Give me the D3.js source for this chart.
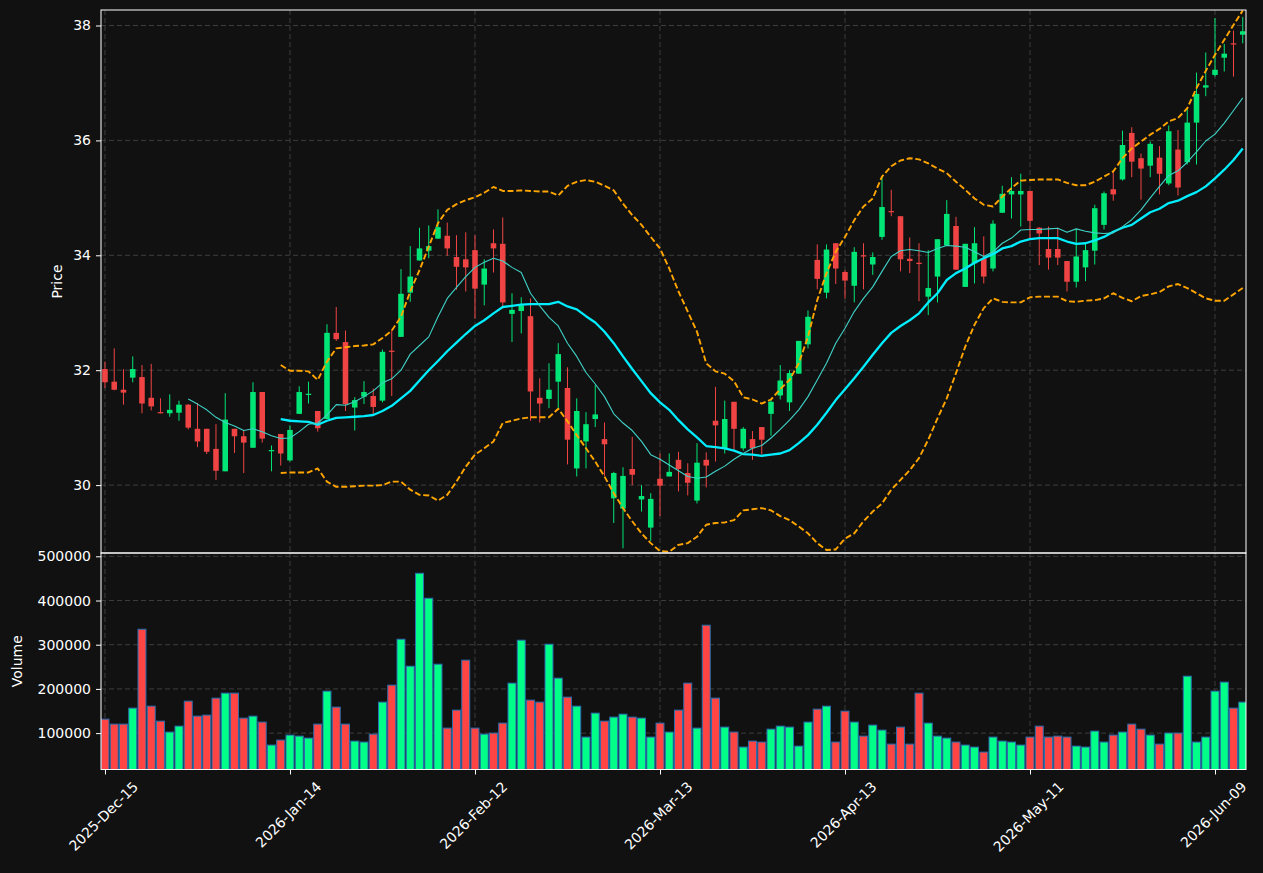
<!DOCTYPE html>
<html><head><meta charset="utf-8">
<script src="https://cdn.jsdelivr.net/npm/d3@7"></script>
<style>
html,body{margin:0;padding:0;background:#111111;}
text{font-family:"DejaVu Sans",sans-serif;}
</style>
</head><body>
<svg id="chart" width="1263" height="873"></svg>
<script>
// ---------- DATA ----------
const tickIndex = [0, 20, 40, 60, 80, 100, 120];
const tickLabels = ["2025-Dec-15", "2026-Jan-14", "2026-Feb-12", "2026-Mar-13", "2026-Apr-13", "2026-May-11", "2026-Jun-09"];
const priceTicks = [30, 32, 34, 36, 38];
const volumeTicks = [100000, 200000, 300000, 400000, 500000];

const openP = [32.02,31.80,31.66,31.87,31.88,31.52,31.27,31.25,31.26,31.40,
30.98,30.98,30.63,30.24,30.98,30.85,30.65,31.62,30.60,30.89,
30.43,31.24,31.57,31.29,31.15,32.65,32.49,31.35,31.54,31.55,
31.47,32.34,32.58,33.35,33.91,34.08,34.29,34.34,33.97,33.93,
34.09,33.49,34.21,34.20,32.98,33.03,32.94,31.52,31.50,31.80,
31.69,30.29,30.76,31.15,30.80,29.77,29.59,30.28,29.75,29.26,
30.11,30.15,30.44,30.21,29.73,30.44,31.12,30.64,31.45,30.64,
30.80,31.01,31.24,31.56,31.44,31.94,32.45,33.92,33.35,34.21,
33.71,33.47,34.00,33.84,34.32,34.77,34.68,33.94,33.87,33.28,
33.63,34.17,34.51,33.45,33.86,33.95,33.77,34.74,35.06,35.06,
35.12,34.48,34.11,34.11,33.90,33.54,33.79,34.08,34.53,35.15,
35.32,36.13,35.69,35.56,35.70,35.25,35.84,35.62,36.31,36.92,
37.14,37.44,37.69,37.84];

const highP = [32.15,32.38,32.02,32.24,32.09,32.11,31.51,31.58,31.47,31.41,
31.43,30.98,31.06,31.60,30.98,30.96,31.79,31.62,30.69,30.89,
31.04,31.72,31.80,31.29,32.80,33.10,32.69,31.53,31.81,31.68,
32.36,32.70,33.76,34.16,34.48,34.52,34.80,34.57,34.35,34.40,
34.35,33.93,34.45,34.66,33.34,33.27,33.25,31.86,32.12,32.47,
32.05,31.51,31.27,31.74,31.09,30.23,30.31,30.84,30.00,29.86,
30.55,30.55,30.58,30.38,30.73,30.57,31.71,31.47,31.45,31.01,
30.94,31.01,31.49,32.09,32.00,32.51,33.04,34.19,34.19,34.21,
33.74,34.14,34.21,34.05,35.38,35.14,34.68,34.31,34.21,34.09,
34.28,34.96,34.67,34.20,34.49,34.33,34.61,35.21,35.36,35.42,
35.12,34.49,34.50,34.48,33.90,34.46,34.21,34.88,35.11,35.45,
36.17,36.23,35.77,35.98,35.90,36.26,36.18,36.56,37.18,37.53,
38.13,37.68,37.91,38.15];

const lowP = [31.69,31.65,31.40,31.79,31.25,31.30,31.25,31.19,31.12,30.97,
30.66,30.54,30.09,30.24,30.56,30.21,30.65,30.74,30.24,30.34,
30.41,31.24,31.42,30.93,31.15,32.51,31.29,30.95,31.41,31.23,
31.44,31.55,32.58,33.19,33.91,33.95,34.29,33.99,33.40,33.37,
32.90,33.13,33.70,33.11,32.49,32.64,31.12,31.09,31.34,31.34,
30.36,30.15,30.29,31.01,30.16,29.34,28.90,30.00,29.54,29.03,
29.46,30.15,29.89,29.82,29.68,29.96,30.41,30.55,30.61,30.60,
30.44,30.53,30.86,31.49,31.29,31.94,32.38,33.41,33.25,33.50,
33.25,33.18,33.41,33.66,34.27,34.68,33.72,33.69,33.20,32.96,
33.18,34.17,33.75,33.45,33.51,33.51,33.72,34.74,34.64,34.50,
34.30,33.83,33.75,33.83,33.37,33.44,33.55,33.84,34.45,34.95,
35.30,35.36,34.97,35.36,35.06,35.22,35.04,35.58,35.58,36.77,
37.11,37.20,37.11,37.69];

const closeP = [31.79,31.66,31.61,32.02,31.42,31.37,31.25,31.31,31.40,31.00,
30.76,30.58,30.25,31.14,30.85,30.74,31.62,30.81,30.61,30.55,
30.96,31.62,31.59,30.99,32.65,32.54,31.41,31.48,31.62,31.36,
32.32,32.33,33.33,33.63,34.12,34.16,34.49,34.12,33.80,33.79,
33.42,33.77,34.12,33.18,33.05,33.13,31.63,31.42,31.66,32.28,
30.79,31.29,31.06,31.23,30.71,30.21,30.16,30.18,29.81,29.76,
29.99,30.23,30.28,30.04,30.39,30.34,31.04,31.15,30.98,30.98,
30.64,30.79,31.45,31.82,31.95,32.51,32.93,33.59,34.10,33.77,
33.56,34.06,33.99,33.97,34.84,34.76,33.93,33.90,33.86,33.43,
34.28,34.72,33.75,34.20,34.21,33.63,34.55,35.07,35.12,35.12,
34.60,34.38,33.96,33.96,33.54,33.98,34.09,34.82,35.08,35.06,
35.92,35.63,35.51,35.94,35.42,36.16,35.18,36.31,36.81,36.96,
37.23,37.51,37.68,37.90];

const volume = [131600,120300,120300,156500,335000,161000,127100,102300,115800,172300,
138400,140700,179100,190400,190400,133900,138400,124900,72900,84200,
95500,93200,88700,120300,194900,158800,120300,81900,79700,97700,
170100,208500,312400,251400,461600,405100,255900,111300,152000,265000,
111300,97700,100000,122600,213000,310200,174600,170100,301100,224300,
181400,161000,91000,145200,127100,136200,142900,136200,133900,91000,
122600,102300,152000,213000,111300,344100,179100,113600,102300,68400,
81900,79700,109000,115800,113600,70600,124900,154200,161000,79700,
149700,124900,93200,118100,106800,75100,113600,75100,190400,122600,
93200,88700,79700,72900,68400,57100,91000,81900,79700,72900,
91000,115800,91000,93200,91000,70600,68400,104500,79700,95500,
102300,120300,109000,95500,75100,100000,100000,228800,79700,91000,
194900,215300,156500,170100];

const ma10 = [null,null,null,null,null,null,null,null,null,
31.50,31.41,31.31,31.18,31.09,31.03,30.95,30.98,30.93,30.86,30.81,
30.82,30.93,31.06,31.08,31.22,31.40,31.39,31.45,31.54,31.64,
31.78,31.85,32.00,32.28,32.43,32.58,32.93,33.25,33.44,33.63,
33.79,33.88,33.95,33.90,33.79,33.70,33.34,33.12,32.92,32.77,
32.47,32.24,31.96,31.76,31.54,31.24,31.08,30.95,30.76,30.53,
30.45,30.35,30.25,30.15,30.12,30.14,30.24,30.33,30.45,30.55,
30.64,30.69,30.82,30.97,31.13,31.31,31.54,31.83,32.12,32.47,
32.73,33.02,33.25,33.45,33.72,33.98,34.08,34.10,34.08,34.05,
34.12,34.17,34.16,34.14,34.06,33.98,34.06,34.21,34.30,34.44,
34.45,34.45,34.46,34.47,34.40,34.46,34.42,34.39,34.38,34.39,
34.50,34.62,34.79,35.00,35.20,35.39,35.47,35.62,35.80,35.99,
36.11,36.30,36.52,36.74];

const ma20 = [null,null,null,null,null,null,null,null,null,null,
null,null,null,null,null,null,null,null,null,31.15,
31.12,31.11,31.10,31.05,31.12,31.17,31.18,31.19,31.20,31.22,
31.29,31.38,31.51,31.64,31.82,32.00,32.16,32.33,32.48,32.63,
32.77,32.87,32.99,33.10,33.12,33.14,33.15,33.15,33.15,33.19,
33.11,33.06,32.94,32.83,32.67,32.47,32.24,32.02,31.81,31.60,
31.44,31.31,31.13,30.97,30.83,30.68,30.66,30.64,30.60,30.54,
30.53,30.51,30.53,30.55,30.61,30.73,30.87,31.05,31.26,31.48,
31.67,31.86,32.06,32.27,32.47,32.65,32.77,32.87,32.99,33.18,
33.34,33.57,33.69,33.77,33.87,33.95,34.02,34.12,34.16,34.24,
34.28,34.30,34.30,34.30,34.24,34.20,34.21,34.26,34.32,34.41,
34.48,34.53,34.64,34.75,34.81,34.91,34.95,35.03,35.10,35.20,
35.34,35.49,35.66,35.86];

const bbUpper = [null,null,null,null,null,null,null,null,null,null,
null,null,null,null,null,null,null,null,null,32.09,
31.99,31.99,31.98,31.83,32.15,32.38,32.40,32.42,32.43,32.45,
32.56,32.69,32.93,33.37,33.74,34.15,34.56,34.79,34.89,34.96,
35.01,35.09,35.19,35.12,35.12,35.13,35.12,35.11,35.11,35.04,
35.21,35.28,35.31,35.28,35.21,35.13,34.90,34.70,34.53,34.32,
34.12,33.77,33.37,33.02,32.67,32.12,31.98,31.94,31.81,31.53,
31.49,31.42,31.49,31.67,31.83,32.12,32.58,33.22,33.69,34.06,
34.32,34.61,34.85,34.99,35.37,35.55,35.65,35.69,35.67,35.60,
35.51,35.43,35.28,35.14,34.99,34.88,34.85,35.02,35.17,35.30,
35.31,35.32,35.32,35.32,35.26,35.22,35.22,35.28,35.37,35.46,
35.69,35.86,35.98,36.10,36.20,36.33,36.39,36.56,36.91,37.21,
37.49,37.75,38.01,38.26];

const bbLower = [null,null,null,null,null,null,null,null,null,null,
null,null,null,null,null,null,null,null,null,30.21,
30.22,30.22,30.22,30.29,30.06,29.97,29.97,29.98,29.99,29.99,
30.00,30.06,30.06,29.92,29.83,29.82,29.73,29.83,30.06,30.32,
30.53,30.64,30.76,31.08,31.12,31.16,31.18,31.18,31.18,31.33,
31.11,30.87,30.64,30.41,30.15,29.86,29.60,29.37,29.16,28.99,
28.85,28.84,28.96,28.99,29.10,29.31,29.34,29.35,29.39,29.56,
29.58,29.60,29.56,29.46,29.39,29.28,29.16,28.99,28.87,28.88,
29.07,29.16,29.37,29.54,29.68,29.92,30.09,30.26,30.47,30.79,
31.16,31.51,31.95,32.41,32.79,33.08,33.25,33.19,33.18,33.18,
33.27,33.28,33.28,33.28,33.20,33.19,33.21,33.22,33.25,33.34,
33.26,33.20,33.29,33.32,33.36,33.46,33.50,33.43,33.34,33.25,
33.21,33.21,33.32,33.43];

// ---------- LAYOUT / STYLE ----------
const BG = "#111111";
const UP_C = "#00e676", DN_C = "#f04444";
const VUP_C = "#00ff88", VDN_C = "#ff4444", VEDGE = "#2a6fb0";
const GRID = "#3d3d3d";
const pane = {left: 101, right: 1246, pTop: 10, pBot: 553, vTop: 553, vBot: 769.5};

const svg = d3.select("#chart");
svg.append("rect").attr("width", 1263).attr("height", 873).attr("fill", BG);

const idx = d3.range(openP.length);
const x = d3.scaleLinear().domain([-0.43, 123.35]).range([pane.left, pane.right]);
const step = x(1) - x(0);
const yP = d3.scaleLinear().domain([28.818, 38.27]).range([pane.pBot, pane.pTop]);
const yV = d3.scaleLinear().domain([17700, 507500]).range([pane.vBot, pane.vTop]);

const defs = svg.append("defs");
defs.append("clipPath").attr("id", "clipP").append("rect")
  .attr("x", pane.left).attr("y", pane.pTop).attr("width", pane.right - pane.left).attr("height", pane.pBot - pane.pTop);
defs.append("clipPath").attr("id", "clipV").append("rect")
  .attr("x", pane.left).attr("y", pane.vTop).attr("width", pane.right - pane.left).attr("height", pane.vBot - pane.vTop);

// ---------- GRID ----------
function grid(g, yScale, ticks, top, bot) {
  g.selectAll("line.h").data(ticks).enter().append("line")
    .attr("x1", pane.left).attr("x2", pane.right)
    .attr("y1", d => yScale(d)).attr("y2", d => yScale(d))
    .attr("stroke", GRID).attr("stroke-width", 1).attr("stroke-dasharray", "5,3");
  g.selectAll("line.v").data(tickIndex).enter().append("line")
    .attr("x1", d => x(d)).attr("x2", d => x(d))
    .attr("y1", top).attr("y2", bot)
    .attr("stroke", GRID).attr("stroke-width", 1).attr("stroke-dasharray", "5,3");
}
grid(svg.append("g").attr("clip-path", "url(#clipP)"), yP, priceTicks, pane.pTop, pane.pBot);
grid(svg.append("g").attr("clip-path", "url(#clipV)"), yV, volumeTicks, pane.vTop, pane.vBot);

// ---------- CANDLES ----------
const gc = svg.append("g").attr("clip-path", "url(#clipP)");
const bodyW = step * 0.6;
const cand = gc.selectAll("g.c").data(idx).enter().append("g");
cand.append("line")
  .attr("x1", i => x(i)).attr("x2", i => x(i))
  .attr("y1", i => yP(highP[i])).attr("y2", i => yP(lowP[i]))
  .attr("stroke", i => closeP[i] >= openP[i] ? UP_C : DN_C).attr("stroke-width", 1);
cand.append("rect")
  .attr("x", i => x(i) - bodyW / 2).attr("width", bodyW)
  .attr("y", i => yP(Math.max(openP[i], closeP[i])))
  .attr("height", i => Math.max(1.2, Math.abs(yP(openP[i]) - yP(closeP[i]))))
  .attr("fill", i => closeP[i] >= openP[i] ? UP_C : DN_C);

// ---------- LINES ----------
function drawLine(arr, color, width, dash) {
  const line = d3.line().defined(i => arr[i] != null).x(i => x(i)).y(i => yP(arr[i]));
  const p = gc.append("path").datum(idx).attr("d", line)
    .attr("fill", "none").attr("stroke", color).attr("stroke-width", width)
    .attr("stroke-linejoin", "round");
  if (dash) p.attr("stroke-dasharray", dash);
}
drawLine(ma20, "#00eeff", 2.3, null);
drawLine(ma10, "#3fd3c8", 1.1, null);
drawLine(bbUpper, "#ffa500", 1.9, "6,2.7");
drawLine(bbLower, "#ffa500", 1.9, "6,2.7");

// ---------- VOLUME ----------
const gv = svg.append("g").attr("clip-path", "url(#clipV)");
const volW = step * 0.86;
gv.selectAll("rect.v").data(idx).enter().append("rect")
  .attr("x", i => x(i) - volW / 2).attr("width", volW)
  .attr("y", i => yV(volume[i])).attr("height", i => yV(0) - yV(volume[i]))
  .attr("fill", i => closeP[i] >= openP[i] ? VUP_C : VDN_C)
  .attr("stroke", VEDGE).attr("stroke-width", 1);

// ---------- AXES ----------
const axP = svg.append("g").attr("transform", `translate(${pane.left},0)`)
  .call(d3.axisLeft(yP).tickValues(priceTicks).tickSize(5).tickPadding(5).tickFormat(d3.format("d")));
const axV = svg.append("g").attr("transform", `translate(${pane.left},0)`)
  .call(d3.axisLeft(yV).tickValues(volumeTicks).tickSize(5).tickPadding(5).tickFormat(d3.format("d")));
const axX = svg.append("g").attr("transform", `translate(0,${pane.vBot})`)
  .call(d3.axisBottom(x).tickValues(tickIndex).tickSize(5).tickFormat((d, k) => tickLabels[k]));
[axP, axV, axX].forEach(a => {
  a.select(".domain").remove();
  a.selectAll(".tick line").attr("stroke", "#ffffff");
  a.selectAll(".tick text").attr("fill", "#ffffff").style("font-size", "14px")
    .style("font-family", "'DejaVu Sans', sans-serif");
});
// rotate x labels 45deg, centred on tick
axX.selectAll(".tick text").each(function () {
  const t = d3.select(this);
  const L = this.getComputedTextLength();
  const h = 16;
  const bh = (L + h) * Math.SQRT1_2;
  const cy = 9 + bh / 2;
  t.attr("y", null).attr("dy", "0.35em").attr("text-anchor", "middle")
    .attr("transform", `translate(-2,${cy}) rotate(-45)`);
});

// ---------- FRAMES ----------
function frame(top, bot) {
  svg.append("rect").attr("x", pane.left).attr("y", top)
    .attr("width", pane.right - pane.left).attr("height", bot - top)
    .attr("fill", "none").attr("stroke", "#ffffff").attr("stroke-width", 1);
}
frame(pane.pTop, pane.pBot);
frame(pane.vTop, pane.vBot);

// ---------- AXIS TITLES ----------
svg.append("text").attr("transform", `translate(57,${(pane.pTop + pane.pBot) / 2}) rotate(-90)`)
  .attr("text-anchor", "middle").attr("dy", "0.35em").attr("fill", "#ffffff")
  .style("font-size", "14px").text("Price");
svg.append("text").attr("transform", `translate(17,${(pane.vTop + pane.vBot) / 2}) rotate(-90)`)
  .attr("text-anchor", "middle").attr("dy", "0.35em").attr("fill", "#ffffff")
  .style("font-size", "14px").text("Volume");
</script>
</body></html>
